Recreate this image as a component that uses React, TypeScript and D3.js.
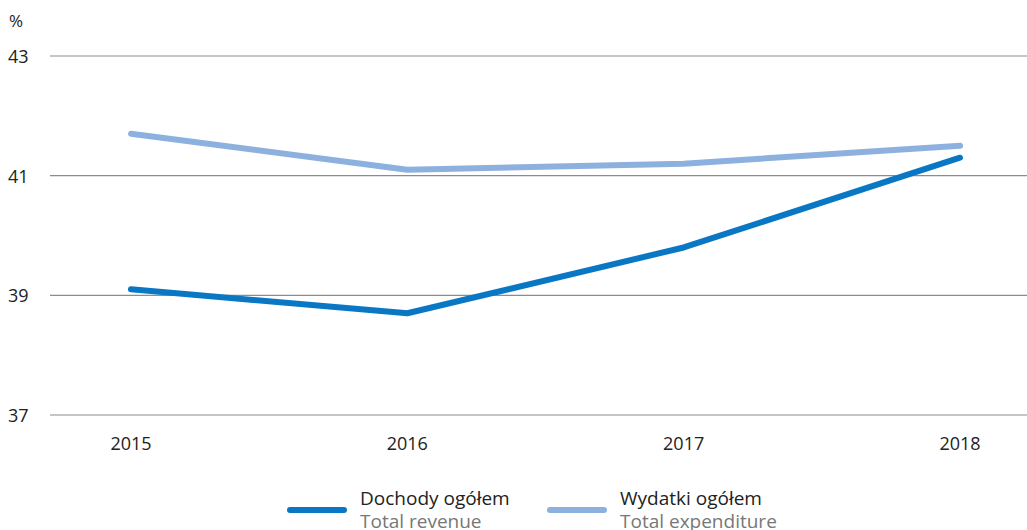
import React from 'react';
import { scalePoint, scaleLinear, line } from 'd3';

const years = ['2015', '2016', '2017', '2018'];
const revenue = [39.1, 38.7, 39.8, 41.3];
const expenditure = [41.7, 41.1, 41.2, 41.5];
const yTicks = [37, 39, 41, 43];

const width = 1027;
const height = 530;
const font = '"Open Sans", "Noto Sans", sans-serif';

const App = () => {
  const xScale = scalePoint().domain(years).range([131, 960]);
  const yScale = scaleLinear().domain([37, 43]).range([415, 56]);

  const makeLine = line<number>()
    .x((_, i) => xScale(years[i]) as number)
    .y(d => yScale(d));

  const series = [
    { pl: 'Dochody ogółem', en: 'Total revenue', values: revenue, color: '#0a77c4', lx: 290 },
    { pl: 'Wydatki ogółem', en: 'Total expenditure', values: expenditure, color: '#8db1df', lx: 550 },
  ];

  return (
    <svg width={width} height={height} style={{ position: 'absolute', left: 0, top: 0 }}>
      <text x={9} y={27} fontFamily={font} fontSize={17} fill="#222">%</text>
      {yTicks.map(t => (
        <g key={t}>
          <line x1={50} x2={1027} y1={yScale(t)} y2={yScale(t)} stroke="#8c8c8c" strokeWidth={1.2} />
          <text x={8} y={yScale(t) + 7} fontFamily={font} fontSize={18} fill="#222">{t}</text>
        </g>
      ))}
      {years.map(y => (
        <text key={y} x={xScale(y)} y={450} textAnchor="middle" fontFamily={font} fontSize={18} fill="#222">{y}</text>
      ))}
      {series.map(s => (
        <path key={s.pl} d={makeLine(s.values) || ''} fill="none" stroke={s.color} strokeWidth={6} strokeLinecap="round" strokeLinejoin="round" />
      ))}
      {series.map(s => (
        <g key={s.pl + 'leg'}>
          <line x1={s.lx} x2={s.lx + 54} y1={510} y2={510} stroke={s.color} strokeWidth={6} strokeLinecap="round" />
          <text x={s.lx + 70} y={505} fontFamily={font} fontSize={19} fill="#222">{s.pl}</text>
          <text x={s.lx + 70} y={528} fontFamily={font} fontSize={19} fill="#777">{s.en}</text>
        </g>
      ))}
    </svg>
  );
};

export default App;
